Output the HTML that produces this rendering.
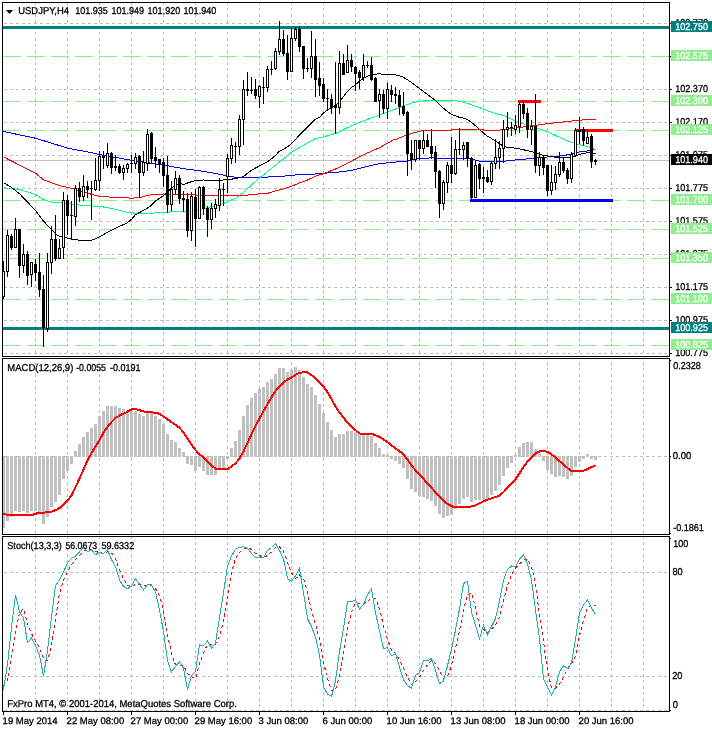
<!DOCTYPE html>
<html><head><meta charset="utf-8"><title>USDJPY,H4</title>
<style>html,body{margin:0;padding:0;background:#fff}svg text{white-space:pre}</style></head>
<body>
<svg width="712" height="729" viewBox="0 0 712 729" shape-rendering="crispEdges" font-family="'Liberation Sans', Arial, sans-serif" font-size="10px" style="display:block;text-rendering:geometricPrecision">
<rect x="0" y="0" width="712" height="729" fill="#fff"/>
<g>
<line x1="35.5" y1="2" x2="35.5" y2="356" stroke="#bdbdbd" stroke-width="1" stroke-dasharray="3 3" stroke-dashoffset="0"/>
<line x1="67.5" y1="2" x2="67.5" y2="356" stroke="#bdbdbd" stroke-width="1" stroke-dasharray="3 3" stroke-dashoffset="0"/>
<line x1="99.5" y1="2" x2="99.5" y2="356" stroke="#bdbdbd" stroke-width="1" stroke-dasharray="3 3" stroke-dashoffset="0"/>
<line x1="131.5" y1="2" x2="131.5" y2="356" stroke="#bdbdbd" stroke-width="1" stroke-dasharray="3 3" stroke-dashoffset="0"/>
<line x1="163.5" y1="2" x2="163.5" y2="356" stroke="#bdbdbd" stroke-width="1" stroke-dasharray="3 3" stroke-dashoffset="0"/>
<line x1="195.5" y1="2" x2="195.5" y2="356" stroke="#bdbdbd" stroke-width="1" stroke-dasharray="3 3" stroke-dashoffset="0"/>
<line x1="227.5" y1="2" x2="227.5" y2="356" stroke="#bdbdbd" stroke-width="1" stroke-dasharray="3 3" stroke-dashoffset="0"/>
<line x1="259.5" y1="2" x2="259.5" y2="356" stroke="#bdbdbd" stroke-width="1" stroke-dasharray="3 3" stroke-dashoffset="0"/>
<line x1="291.5" y1="2" x2="291.5" y2="356" stroke="#bdbdbd" stroke-width="1" stroke-dasharray="3 3" stroke-dashoffset="0"/>
<line x1="323.5" y1="2" x2="323.5" y2="356" stroke="#bdbdbd" stroke-width="1" stroke-dasharray="3 3" stroke-dashoffset="0"/>
<line x1="355.5" y1="2" x2="355.5" y2="356" stroke="#bdbdbd" stroke-width="1" stroke-dasharray="3 3" stroke-dashoffset="0"/>
<line x1="387.5" y1="2" x2="387.5" y2="356" stroke="#bdbdbd" stroke-width="1" stroke-dasharray="3 3" stroke-dashoffset="0"/>
<line x1="419.5" y1="2" x2="419.5" y2="356" stroke="#bdbdbd" stroke-width="1" stroke-dasharray="3 3" stroke-dashoffset="0"/>
<line x1="451.5" y1="2" x2="451.5" y2="356" stroke="#bdbdbd" stroke-width="1" stroke-dasharray="3 3" stroke-dashoffset="0"/>
<line x1="483.5" y1="2" x2="483.5" y2="356" stroke="#bdbdbd" stroke-width="1" stroke-dasharray="3 3" stroke-dashoffset="0"/>
<line x1="515.5" y1="2" x2="515.5" y2="356" stroke="#bdbdbd" stroke-width="1" stroke-dasharray="3 3" stroke-dashoffset="0"/>
<line x1="547.5" y1="2" x2="547.5" y2="356" stroke="#bdbdbd" stroke-width="1" stroke-dasharray="3 3" stroke-dashoffset="0"/>
<line x1="579.5" y1="2" x2="579.5" y2="356" stroke="#bdbdbd" stroke-width="1" stroke-dasharray="3 3" stroke-dashoffset="0"/>
<line x1="611.5" y1="2" x2="611.5" y2="356" stroke="#bdbdbd" stroke-width="1" stroke-dasharray="3 3" stroke-dashoffset="0"/>
<line x1="643.5" y1="2" x2="643.5" y2="356" stroke="#bdbdbd" stroke-width="1" stroke-dasharray="3 3" stroke-dashoffset="0"/>
<line x1="35.5" y1="358" x2="35.5" y2="534" stroke="#bdbdbd" stroke-width="1" stroke-dasharray="3 3" stroke-dashoffset="2"/>
<line x1="67.5" y1="358" x2="67.5" y2="534" stroke="#bdbdbd" stroke-width="1" stroke-dasharray="3 3" stroke-dashoffset="2"/>
<line x1="99.5" y1="358" x2="99.5" y2="534" stroke="#bdbdbd" stroke-width="1" stroke-dasharray="3 3" stroke-dashoffset="2"/>
<line x1="131.5" y1="358" x2="131.5" y2="534" stroke="#bdbdbd" stroke-width="1" stroke-dasharray="3 3" stroke-dashoffset="2"/>
<line x1="163.5" y1="358" x2="163.5" y2="534" stroke="#bdbdbd" stroke-width="1" stroke-dasharray="3 3" stroke-dashoffset="2"/>
<line x1="195.5" y1="358" x2="195.5" y2="534" stroke="#bdbdbd" stroke-width="1" stroke-dasharray="3 3" stroke-dashoffset="2"/>
<line x1="227.5" y1="358" x2="227.5" y2="534" stroke="#bdbdbd" stroke-width="1" stroke-dasharray="3 3" stroke-dashoffset="2"/>
<line x1="259.5" y1="358" x2="259.5" y2="534" stroke="#bdbdbd" stroke-width="1" stroke-dasharray="3 3" stroke-dashoffset="2"/>
<line x1="291.5" y1="358" x2="291.5" y2="534" stroke="#bdbdbd" stroke-width="1" stroke-dasharray="3 3" stroke-dashoffset="2"/>
<line x1="323.5" y1="358" x2="323.5" y2="534" stroke="#bdbdbd" stroke-width="1" stroke-dasharray="3 3" stroke-dashoffset="2"/>
<line x1="355.5" y1="358" x2="355.5" y2="534" stroke="#bdbdbd" stroke-width="1" stroke-dasharray="3 3" stroke-dashoffset="2"/>
<line x1="387.5" y1="358" x2="387.5" y2="534" stroke="#bdbdbd" stroke-width="1" stroke-dasharray="3 3" stroke-dashoffset="2"/>
<line x1="419.5" y1="358" x2="419.5" y2="534" stroke="#bdbdbd" stroke-width="1" stroke-dasharray="3 3" stroke-dashoffset="2"/>
<line x1="451.5" y1="358" x2="451.5" y2="534" stroke="#bdbdbd" stroke-width="1" stroke-dasharray="3 3" stroke-dashoffset="2"/>
<line x1="483.5" y1="358" x2="483.5" y2="534" stroke="#bdbdbd" stroke-width="1" stroke-dasharray="3 3" stroke-dashoffset="2"/>
<line x1="515.5" y1="358" x2="515.5" y2="534" stroke="#bdbdbd" stroke-width="1" stroke-dasharray="3 3" stroke-dashoffset="2"/>
<line x1="547.5" y1="358" x2="547.5" y2="534" stroke="#bdbdbd" stroke-width="1" stroke-dasharray="3 3" stroke-dashoffset="2"/>
<line x1="579.5" y1="358" x2="579.5" y2="534" stroke="#bdbdbd" stroke-width="1" stroke-dasharray="3 3" stroke-dashoffset="2"/>
<line x1="611.5" y1="358" x2="611.5" y2="534" stroke="#bdbdbd" stroke-width="1" stroke-dasharray="3 3" stroke-dashoffset="2"/>
<line x1="643.5" y1="358" x2="643.5" y2="534" stroke="#bdbdbd" stroke-width="1" stroke-dasharray="3 3" stroke-dashoffset="2"/>
<line x1="35.5" y1="536" x2="35.5" y2="711" stroke="#bdbdbd" stroke-width="1" stroke-dasharray="3 3" stroke-dashoffset="0"/>
<line x1="67.5" y1="536" x2="67.5" y2="711" stroke="#bdbdbd" stroke-width="1" stroke-dasharray="3 3" stroke-dashoffset="0"/>
<line x1="99.5" y1="536" x2="99.5" y2="711" stroke="#bdbdbd" stroke-width="1" stroke-dasharray="3 3" stroke-dashoffset="0"/>
<line x1="131.5" y1="536" x2="131.5" y2="711" stroke="#bdbdbd" stroke-width="1" stroke-dasharray="3 3" stroke-dashoffset="0"/>
<line x1="163.5" y1="536" x2="163.5" y2="711" stroke="#bdbdbd" stroke-width="1" stroke-dasharray="3 3" stroke-dashoffset="0"/>
<line x1="195.5" y1="536" x2="195.5" y2="711" stroke="#bdbdbd" stroke-width="1" stroke-dasharray="3 3" stroke-dashoffset="0"/>
<line x1="227.5" y1="536" x2="227.5" y2="711" stroke="#bdbdbd" stroke-width="1" stroke-dasharray="3 3" stroke-dashoffset="0"/>
<line x1="259.5" y1="536" x2="259.5" y2="711" stroke="#bdbdbd" stroke-width="1" stroke-dasharray="3 3" stroke-dashoffset="0"/>
<line x1="291.5" y1="536" x2="291.5" y2="711" stroke="#bdbdbd" stroke-width="1" stroke-dasharray="3 3" stroke-dashoffset="0"/>
<line x1="323.5" y1="536" x2="323.5" y2="711" stroke="#bdbdbd" stroke-width="1" stroke-dasharray="3 3" stroke-dashoffset="0"/>
<line x1="355.5" y1="536" x2="355.5" y2="711" stroke="#bdbdbd" stroke-width="1" stroke-dasharray="3 3" stroke-dashoffset="0"/>
<line x1="387.5" y1="536" x2="387.5" y2="711" stroke="#bdbdbd" stroke-width="1" stroke-dasharray="3 3" stroke-dashoffset="0"/>
<line x1="419.5" y1="536" x2="419.5" y2="711" stroke="#bdbdbd" stroke-width="1" stroke-dasharray="3 3" stroke-dashoffset="0"/>
<line x1="451.5" y1="536" x2="451.5" y2="711" stroke="#bdbdbd" stroke-width="1" stroke-dasharray="3 3" stroke-dashoffset="0"/>
<line x1="483.5" y1="536" x2="483.5" y2="711" stroke="#bdbdbd" stroke-width="1" stroke-dasharray="3 3" stroke-dashoffset="0"/>
<line x1="515.5" y1="536" x2="515.5" y2="711" stroke="#bdbdbd" stroke-width="1" stroke-dasharray="3 3" stroke-dashoffset="0"/>
<line x1="547.5" y1="536" x2="547.5" y2="711" stroke="#bdbdbd" stroke-width="1" stroke-dasharray="3 3" stroke-dashoffset="0"/>
<line x1="579.5" y1="536" x2="579.5" y2="711" stroke="#bdbdbd" stroke-width="1" stroke-dasharray="3 3" stroke-dashoffset="0"/>
<line x1="611.5" y1="536" x2="611.5" y2="711" stroke="#bdbdbd" stroke-width="1" stroke-dasharray="3 3" stroke-dashoffset="0"/>
<line x1="643.5" y1="536" x2="643.5" y2="711" stroke="#bdbdbd" stroke-width="1" stroke-dasharray="3 3" stroke-dashoffset="0"/>
<line x1="3" y1="23.5" x2="669" y2="23.5" stroke="#bdbdbd" stroke-width="1" stroke-dasharray="3 3" stroke-dashoffset="5"/>
<line x1="3" y1="56.5" x2="669" y2="56.5" stroke="#bdbdbd" stroke-width="1" stroke-dasharray="3 3" stroke-dashoffset="5"/>
<line x1="3" y1="89.5" x2="669" y2="89.5" stroke="#bdbdbd" stroke-width="1" stroke-dasharray="3 3" stroke-dashoffset="5"/>
<line x1="3" y1="122.5" x2="669" y2="122.5" stroke="#bdbdbd" stroke-width="1" stroke-dasharray="3 3" stroke-dashoffset="5"/>
<line x1="3" y1="155.5" x2="669" y2="155.5" stroke="#bdbdbd" stroke-width="1" stroke-dasharray="3 3" stroke-dashoffset="5"/>
<line x1="3" y1="188.5" x2="669" y2="188.5" stroke="#bdbdbd" stroke-width="1" stroke-dasharray="3 3" stroke-dashoffset="5"/>
<line x1="3" y1="221.5" x2="669" y2="221.5" stroke="#bdbdbd" stroke-width="1" stroke-dasharray="3 3" stroke-dashoffset="5"/>
<line x1="3" y1="254.5" x2="669" y2="254.5" stroke="#bdbdbd" stroke-width="1" stroke-dasharray="3 3" stroke-dashoffset="5"/>
<line x1="3" y1="287.5" x2="669" y2="287.5" stroke="#bdbdbd" stroke-width="1" stroke-dasharray="3 3" stroke-dashoffset="5"/>
<line x1="3" y1="320.5" x2="669" y2="320.5" stroke="#bdbdbd" stroke-width="1" stroke-dasharray="3 3" stroke-dashoffset="5"/>
<line x1="3" y1="353.5" x2="669" y2="353.5" stroke="#bdbdbd" stroke-width="1" stroke-dasharray="3 3" stroke-dashoffset="5"/>
<line x1="3" y1="456.5" x2="669" y2="456.5" stroke="#bdbdbd" stroke-width="1" stroke-dasharray="3 3" stroke-dashoffset="5"/>
<line x1="3" y1="572.5" x2="669" y2="572.5" stroke="#bdbdbd" stroke-width="1" stroke-dasharray="3 3" stroke-dashoffset="5"/>
<line x1="3" y1="676.5" x2="669" y2="676.5" stroke="#bdbdbd" stroke-width="1" stroke-dasharray="3 3" stroke-dashoffset="5"/>
<line x1="3" y1="710.5" x2="669" y2="710.5" stroke="#bdbdbd" stroke-width="1" stroke-dasharray="3 3" stroke-dashoffset="5"/>
</g>
<line x1="3" y1="160.5" x2="669" y2="160.5" stroke="#c0c0c0" stroke-width="1"/>
<line x1="3" y1="56.5" x2="669" y2="56.5" stroke="#fff" stroke-width="1"/>
<line x1="3" y1="56.5" x2="669" y2="56.5" stroke="#90ee90" stroke-width="1" stroke-dasharray="18 6" stroke-dashoffset="0"/>
<line x1="3" y1="101.5" x2="669" y2="101.5" stroke="#fff" stroke-width="1"/>
<line x1="3" y1="101.5" x2="669" y2="101.5" stroke="#90ee90" stroke-width="1" stroke-dasharray="18 6" stroke-dashoffset="0"/>
<line x1="3" y1="130.5" x2="669" y2="130.5" stroke="#fff" stroke-width="1"/>
<line x1="3" y1="130.5" x2="669" y2="130.5" stroke="#90ee90" stroke-width="1" stroke-dasharray="18 6" stroke-dashoffset="0"/>
<line x1="3" y1="200.5" x2="669" y2="200.5" stroke="#fff" stroke-width="1"/>
<line x1="3" y1="200.5" x2="669" y2="200.5" stroke="#90ee90" stroke-width="1" stroke-dasharray="18 6" stroke-dashoffset="0"/>
<line x1="3" y1="229.5" x2="669" y2="229.5" stroke="#fff" stroke-width="1"/>
<line x1="3" y1="229.5" x2="669" y2="229.5" stroke="#90ee90" stroke-width="1" stroke-dasharray="18 6" stroke-dashoffset="0"/>
<line x1="3" y1="258.5" x2="669" y2="258.5" stroke="#fff" stroke-width="1"/>
<line x1="3" y1="258.5" x2="669" y2="258.5" stroke="#90ee90" stroke-width="1" stroke-dasharray="18 6" stroke-dashoffset="0"/>
<line x1="3" y1="299.5" x2="669" y2="299.5" stroke="#fff" stroke-width="1"/>
<line x1="3" y1="299.5" x2="669" y2="299.5" stroke="#90ee90" stroke-width="1" stroke-dasharray="18 6" stroke-dashoffset="0"/>
<line x1="3" y1="345.5" x2="669" y2="345.5" stroke="#fff" stroke-width="1"/>
<line x1="3" y1="345.5" x2="669" y2="345.5" stroke="#90ee90" stroke-width="1" stroke-dasharray="18 6" stroke-dashoffset="0"/>
<polyline points="3.5,131.5 35.5,138.2 67.5,148.1 92.5,152.9 99.5,154.5 131.5,160.3 163.5,165.1 184.5,168.8 195.5,170.2 211.5,172.7 227.5,175.8 235.5,177.2 243.5,177.9 259.5,177.6 275.5,176.5 283.5,176.1 291.5,175.4 299.5,174.4 307.5,174.4 315.5,174.0 323.5,173.4 331.5,172.6 339.5,172.0 347.5,170.9 355.5,169.5 363.5,167.4 371.5,165.3 379.5,163.6 396.5,162.0 403.5,161.2 407.5,161.2 411.5,159.8 415.5,159.2 419.5,158.8 427.5,158.4 431.5,157.4 435.5,158.1 439.5,158.8 451.5,158.8 463.5,158.8 467.5,158.8 471.5,159.2 475.5,160.2 479.5,161.2 483.5,161.6 491.5,162.0 495.5,161.9 503.5,161.8 507.5,160.7 515.5,160.0 523.5,159.3 531.5,158.4 539.5,157.7 547.5,157.0 555.5,156.3 563.5,155.6 567.5,154.8 571.5,154.2 575.5,152.6 579.5,152.0 583.5,151.4 587.5,150.9 591.5,150.2 595.5,148.9" fill="none" stroke="#0000ff" stroke-width="1" />
<polyline points="3.5,156.9 35.5,173.3 43.5,179.7 59.5,185.7 67.5,187.4 75.5,189.5 92.5,194.6 99.5,196.4 115.5,197.4 131.5,198.1 139.5,197.8 147.5,195.3 155.5,194.3 163.5,194.0 179.5,194.3 191.5,194.6 195.5,195.0 211.5,195.4 227.5,195.9 243.5,195.4 251.5,194.7 259.5,193.8 267.5,193.3 275.5,190.9 283.5,188.9 291.5,186.3 299.5,182.8 307.5,180.0 315.5,176.2 323.5,173.7 331.5,170.6 339.5,167.4 347.5,163.2 355.5,159.0 363.5,154.7 371.5,151.2 379.5,147.7 393.5,139.9 396.5,139.1 403.5,136.3 411.5,133.5 419.5,131.4 423.5,130.3 431.5,130.0 443.5,130.0 451.5,130.0 455.5,129.3 463.5,129.3 467.5,129.6 471.5,130.0 475.5,129.7 483.5,130.0 495.5,130.0 499.5,130.1 503.5,129.5 507.5,128.7 515.5,128.1 519.5,127.7 523.5,127.0 527.5,126.3 531.5,125.6 539.5,124.9 547.5,123.5 555.5,122.8 563.5,122.0 571.5,121.1 579.5,120.1 587.5,119.8 595.5,119.8" fill="none" stroke="#ff0000" stroke-width="1" />
<polyline points="3.5,187.8 19.5,189.5 35.5,194.4 43.5,199.6 51.5,202.1 67.5,203.5 83.5,205.6 99.5,206.3 107.5,207.7 115.5,209.3 123.5,211.5 131.5,212.9 139.5,213.7 147.5,213.7 155.5,212.9 163.5,212.3 171.5,211.9 179.5,211.5 184.5,212.0 195.5,210.2 203.5,208.8 211.5,206.7 219.5,205.0 227.5,201.8 235.5,198.3 243.5,192.6 251.5,184.9 259.5,177.9 267.5,171.6 275.5,165.2 283.5,158.9 291.5,152.2 299.5,147.4 307.5,142.9 315.5,138.4 323.5,136.9 331.5,134.5 335.5,133.5 339.5,131.7 347.5,127.5 355.5,124.1 363.5,120.8 371.5,117.9 379.5,115.1 387.5,112.1 395.5,109.0 403.5,105.9 411.5,103.1 419.5,101.2 427.5,100.6 435.5,100.3 443.5,100.3 451.5,100.6 459.5,101.2 467.5,103.3 475.5,106.1 483.5,109.2 491.5,112.2 495.5,113.5 503.5,115.5 507.5,117.2 515.5,121.4 523.5,123.9 531.5,126.3 539.5,128.7 547.5,131.9 555.5,135.5 563.5,139.3 567.5,140.8 571.5,142.3 575.5,143.6 579.5,144.5 583.5,145.6 587.5,146.5 591.5,148.1 595.5,149.6" fill="none" stroke="#00ff80" stroke-width="1" />
<polyline points="3.5,182.7 11.5,187.4 19.5,193.7 27.5,202.1 35.5,210.5 43.5,221.1 51.5,229.5 55.5,233.8 59.5,236.4 63.5,237.1 67.5,238.1 71.5,239.2 79.5,240.2 87.5,240.9 92.5,240.0 99.5,236.8 107.5,232.3 115.5,228.1 123.5,224.6 127.5,222.7 131.5,219.3 135.5,214.7 139.5,212.5 147.5,208.1 151.5,205.2 155.5,201.1 163.5,195.7 167.5,192.2 171.5,188.0 175.5,185.2 179.5,183.8 184.5,184.2 187.5,183.0 191.5,181.7 195.5,180.7 203.5,180.0 211.5,180.3 219.5,180.3 227.5,179.7 235.5,178.6 243.5,176.5 251.5,170.2 259.5,165.9 267.5,161.7 271.5,158.8 275.5,155.4 279.5,151.1 283.5,149.5 291.5,143.8 299.5,135.0 307.5,127.0 315.5,119.2 319.5,117.4 323.5,113.0 327.5,110.0 331.5,107.9 335.5,105.3 339.5,101.7 343.5,96.7 347.5,91.3 351.5,87.6 355.5,84.7 359.5,81.2 363.5,78.4 367.5,76.3 371.5,74.2 379.5,73.9 387.5,74.5 395.5,74.9 399.5,75.9 403.5,77.3 407.5,79.8 411.5,82.4 415.5,85.4 419.5,88.5 423.5,91.5 427.5,94.5 431.5,97.5 435.5,100.5 439.5,104.4 443.5,108.2 447.5,111.7 451.5,114.5 455.5,115.9 459.5,117.4 463.5,118.1 467.5,119.5 471.5,122.3 475.5,125.8 479.5,129.3 483.5,133.1 487.5,136.2 491.5,138.5 495.5,140.8 499.5,143.9 503.5,146.0 507.5,147.4 515.5,148.1 519.5,148.8 523.5,149.8 527.5,150.6 531.5,151.6 535.5,152.6 539.5,154.4 543.5,155.4 547.5,155.9 551.5,156.8 555.5,157.1 559.5,157.7 563.5,157.9 567.5,157.9 571.5,157.2 575.5,155.9 579.5,154.4 583.5,153.4 587.5,152.7 591.5,152.3 592.5,153.8 595.5,153.8" fill="none" stroke="#000" stroke-width="1" />
<rect x="3" y="26" width="666" height="3" fill="#008080"/>
<rect x="3" y="327" width="666" height="3" fill="#008080"/>
<rect x="470" y="199" width="143" height="3" fill="#0000ff"/>
<rect x="518" y="100" width="23" height="3" fill="#ff0000"/>
<rect x="575" y="129" width="38" height="3" fill="#ff0000"/>
<g fill="#000">
<rect x="3" y="261" width="1" height="38"/>
<rect x="2" y="271" width="3" height="26"/>
<rect x="3" y="272" width="1" height="24" fill="#fff"/>
<rect x="7" y="230" width="1" height="47"/>
<rect x="6" y="235" width="3" height="37"/>
<rect x="7" y="236" width="1" height="35" fill="#fff"/>
<rect x="11" y="234" width="1" height="16"/>
<rect x="10" y="236" width="3" height="12"/>
<rect x="15" y="218" width="1" height="30"/>
<rect x="14" y="229" width="3" height="19"/>
<rect x="15" y="230" width="1" height="17" fill="#fff"/>
<rect x="19" y="229" width="1" height="49"/>
<rect x="18" y="229" width="3" height="37"/>
<rect x="23" y="244" width="1" height="29"/>
<rect x="22" y="254" width="3" height="12"/>
<rect x="23" y="255" width="1" height="10" fill="#fff"/>
<rect x="27" y="251" width="1" height="34"/>
<rect x="26" y="254" width="3" height="22"/>
<rect x="31" y="262" width="1" height="25"/>
<rect x="30" y="262" width="3" height="13"/>
<rect x="31" y="263" width="1" height="11" fill="#fff"/>
<rect x="35" y="259" width="1" height="22"/>
<rect x="34" y="264" width="3" height="9"/>
<rect x="39" y="253" width="1" height="44"/>
<rect x="38" y="272" width="3" height="18"/>
<rect x="43" y="275" width="1" height="72"/>
<rect x="42" y="289" width="3" height="39"/>
<rect x="47" y="253" width="1" height="79"/>
<rect x="46" y="262" width="3" height="67"/>
<rect x="47" y="263" width="1" height="65" fill="#fff"/>
<rect x="51" y="226" width="1" height="48"/>
<rect x="50" y="239" width="3" height="24"/>
<rect x="51" y="240" width="1" height="22" fill="#fff"/>
<rect x="55" y="215" width="1" height="46"/>
<rect x="54" y="239" width="3" height="20"/>
<rect x="59" y="239" width="1" height="20"/>
<rect x="58" y="248" width="3" height="11"/>
<rect x="59" y="249" width="1" height="9" fill="#fff"/>
<rect x="63" y="192" width="1" height="67"/>
<rect x="62" y="200" width="3" height="48"/>
<rect x="63" y="201" width="1" height="46" fill="#fff"/>
<rect x="67" y="195" width="1" height="40"/>
<rect x="66" y="200" width="3" height="16"/>
<rect x="71" y="201" width="1" height="38"/>
<rect x="70" y="215" width="3" height="1"/>
<rect x="75" y="185" width="1" height="41"/>
<rect x="74" y="188" width="3" height="29"/>
<rect x="75" y="189" width="1" height="27" fill="#fff"/>
<rect x="79" y="182" width="1" height="20"/>
<rect x="78" y="188" width="3" height="9"/>
<rect x="83" y="175" width="1" height="26"/>
<rect x="82" y="186" width="3" height="11"/>
<rect x="83" y="187" width="1" height="9" fill="#fff"/>
<rect x="87" y="181" width="1" height="17"/>
<rect x="86" y="186" width="3" height="4"/>
<rect x="91" y="181" width="1" height="39"/>
<rect x="90" y="188" width="3" height="1"/>
<rect x="95" y="158" width="1" height="33"/>
<rect x="94" y="180" width="3" height="10"/>
<rect x="95" y="181" width="1" height="8" fill="#fff"/>
<rect x="99" y="151" width="1" height="40"/>
<rect x="98" y="156" width="3" height="25"/>
<rect x="99" y="157" width="1" height="23" fill="#fff"/>
<rect x="103" y="151" width="1" height="18"/>
<rect x="102" y="156" width="3" height="2"/>
<rect x="107" y="143" width="1" height="25"/>
<rect x="106" y="153" width="3" height="13"/>
<rect x="107" y="154" width="1" height="11" fill="#fff"/>
<rect x="111" y="152" width="1" height="22"/>
<rect x="110" y="153" width="3" height="15"/>
<rect x="115" y="155" width="1" height="16"/>
<rect x="114" y="166" width="3" height="2"/>
<rect x="119" y="164" width="1" height="10"/>
<rect x="118" y="166" width="3" height="7"/>
<rect x="123" y="165" width="1" height="15"/>
<rect x="122" y="168" width="3" height="5"/>
<rect x="123" y="169" width="1" height="3" fill="#fff"/>
<rect x="127" y="163" width="1" height="10"/>
<rect x="126" y="164" width="3" height="5"/>
<rect x="127" y="165" width="1" height="3" fill="#fff"/>
<rect x="131" y="155" width="1" height="18"/>
<rect x="130" y="163" width="3" height="1"/>
<rect x="135" y="153" width="1" height="16"/>
<rect x="134" y="157" width="3" height="7"/>
<rect x="135" y="158" width="1" height="5" fill="#fff"/>
<rect x="139" y="155" width="1" height="43"/>
<rect x="138" y="156" width="3" height="17"/>
<rect x="143" y="151" width="1" height="25"/>
<rect x="142" y="162" width="3" height="11"/>
<rect x="143" y="163" width="1" height="9" fill="#fff"/>
<rect x="147" y="129" width="1" height="42"/>
<rect x="146" y="134" width="3" height="30"/>
<rect x="147" y="135" width="1" height="28" fill="#fff"/>
<rect x="151" y="132" width="1" height="31"/>
<rect x="150" y="133" width="3" height="26"/>
<rect x="155" y="147" width="1" height="21"/>
<rect x="154" y="157" width="3" height="4"/>
<rect x="159" y="159" width="1" height="14"/>
<rect x="158" y="159" width="3" height="5"/>
<rect x="163" y="158" width="1" height="29"/>
<rect x="162" y="162" width="3" height="14"/>
<rect x="167" y="156" width="1" height="57"/>
<rect x="166" y="175" width="3" height="30"/>
<rect x="171" y="181" width="1" height="30"/>
<rect x="170" y="189" width="3" height="16"/>
<rect x="171" y="190" width="1" height="14" fill="#fff"/>
<rect x="175" y="171" width="1" height="23"/>
<rect x="174" y="178" width="3" height="12"/>
<rect x="175" y="179" width="1" height="10" fill="#fff"/>
<rect x="179" y="175" width="1" height="29"/>
<rect x="178" y="178" width="3" height="21"/>
<rect x="183" y="191" width="1" height="21"/>
<rect x="182" y="198" width="3" height="2"/>
<rect x="187" y="193" width="1" height="44"/>
<rect x="186" y="199" width="3" height="32"/>
<rect x="191" y="192" width="1" height="49"/>
<rect x="190" y="196" width="3" height="35"/>
<rect x="191" y="197" width="1" height="33" fill="#fff"/>
<rect x="195" y="189" width="1" height="58"/>
<rect x="194" y="197" width="3" height="22"/>
<rect x="199" y="186" width="1" height="33"/>
<rect x="198" y="187" width="3" height="32"/>
<rect x="199" y="188" width="1" height="30" fill="#fff"/>
<rect x="203" y="186" width="1" height="29"/>
<rect x="202" y="187" width="3" height="22"/>
<rect x="207" y="206" width="1" height="31"/>
<rect x="206" y="208" width="3" height="12"/>
<rect x="211" y="203" width="1" height="26"/>
<rect x="210" y="208" width="3" height="12"/>
<rect x="211" y="209" width="1" height="10" fill="#fff"/>
<rect x="215" y="199" width="1" height="19"/>
<rect x="214" y="204" width="3" height="5"/>
<rect x="215" y="205" width="1" height="3" fill="#fff"/>
<rect x="219" y="178" width="1" height="33"/>
<rect x="218" y="189" width="3" height="17"/>
<rect x="219" y="190" width="1" height="15" fill="#fff"/>
<rect x="223" y="183" width="1" height="23"/>
<rect x="222" y="189" width="3" height="1"/>
<rect x="227" y="154" width="1" height="39"/>
<rect x="226" y="158" width="3" height="19"/>
<rect x="227" y="159" width="1" height="17" fill="#fff"/>
<rect x="231" y="138" width="1" height="26"/>
<rect x="230" y="145" width="3" height="14"/>
<rect x="231" y="146" width="1" height="12" fill="#fff"/>
<rect x="235" y="142" width="1" height="21"/>
<rect x="234" y="146" width="3" height="1"/>
<rect x="239" y="115" width="1" height="40"/>
<rect x="238" y="119" width="3" height="28"/>
<rect x="239" y="120" width="1" height="26" fill="#fff"/>
<rect x="243" y="80" width="1" height="65"/>
<rect x="242" y="89" width="3" height="31"/>
<rect x="243" y="90" width="1" height="29" fill="#fff"/>
<rect x="247" y="72" width="1" height="24"/>
<rect x="246" y="89" width="3" height="2"/>
<rect x="251" y="77" width="1" height="17"/>
<rect x="250" y="90" width="3" height="1"/>
<rect x="255" y="79" width="1" height="20"/>
<rect x="254" y="89" width="3" height="7"/>
<rect x="259" y="85" width="1" height="23"/>
<rect x="258" y="86" width="3" height="11"/>
<rect x="259" y="87" width="1" height="9" fill="#fff"/>
<rect x="263" y="77" width="1" height="27"/>
<rect x="262" y="87" width="3" height="1"/>
<rect x="267" y="66" width="1" height="26"/>
<rect x="266" y="69" width="3" height="19"/>
<rect x="267" y="70" width="1" height="17" fill="#fff"/>
<rect x="271" y="61" width="1" height="14"/>
<rect x="270" y="69" width="3" height="1"/>
<rect x="275" y="48" width="1" height="22"/>
<rect x="274" y="51" width="3" height="18"/>
<rect x="275" y="52" width="1" height="16" fill="#fff"/>
<rect x="279" y="21" width="1" height="34"/>
<rect x="278" y="39" width="3" height="13"/>
<rect x="279" y="40" width="1" height="11" fill="#fff"/>
<rect x="283" y="30" width="1" height="26"/>
<rect x="282" y="39" width="3" height="15"/>
<rect x="287" y="35" width="1" height="45"/>
<rect x="286" y="53" width="3" height="19"/>
<rect x="291" y="28" width="1" height="44"/>
<rect x="290" y="38" width="3" height="34"/>
<rect x="291" y="39" width="1" height="32" fill="#fff"/>
<rect x="295" y="27" width="1" height="14"/>
<rect x="294" y="29" width="3" height="10"/>
<rect x="295" y="30" width="1" height="8" fill="#fff"/>
<rect x="299" y="26" width="1" height="26"/>
<rect x="298" y="29" width="3" height="18"/>
<rect x="303" y="46" width="1" height="33"/>
<rect x="302" y="46" width="3" height="23"/>
<rect x="307" y="58" width="1" height="14"/>
<rect x="306" y="68" width="3" height="1"/>
<rect x="311" y="31" width="1" height="47"/>
<rect x="310" y="56" width="3" height="13"/>
<rect x="311" y="57" width="1" height="11" fill="#fff"/>
<rect x="315" y="39" width="1" height="58"/>
<rect x="314" y="56" width="3" height="24"/>
<rect x="319" y="62" width="1" height="34"/>
<rect x="318" y="78" width="3" height="8"/>
<rect x="323" y="78" width="1" height="24"/>
<rect x="322" y="84" width="3" height="15"/>
<rect x="327" y="89" width="1" height="22"/>
<rect x="326" y="98" width="3" height="1"/>
<rect x="331" y="94" width="1" height="20"/>
<rect x="330" y="99" width="3" height="9"/>
<rect x="335" y="62" width="1" height="72"/>
<rect x="334" y="105" width="3" height="3"/>
<rect x="339" y="51" width="1" height="63"/>
<rect x="338" y="63" width="3" height="45"/>
<rect x="339" y="64" width="1" height="43" fill="#fff"/>
<rect x="343" y="54" width="1" height="21"/>
<rect x="342" y="63" width="3" height="12"/>
<rect x="347" y="45" width="1" height="28"/>
<rect x="346" y="60" width="3" height="13"/>
<rect x="347" y="61" width="1" height="11" fill="#fff"/>
<rect x="351" y="54" width="1" height="18"/>
<rect x="350" y="60" width="3" height="7"/>
<rect x="355" y="66" width="1" height="25"/>
<rect x="354" y="67" width="3" height="7"/>
<rect x="359" y="70" width="1" height="19"/>
<rect x="358" y="72" width="3" height="6"/>
<rect x="363" y="54" width="1" height="27"/>
<rect x="362" y="65" width="3" height="13"/>
<rect x="363" y="66" width="1" height="11" fill="#fff"/>
<rect x="367" y="61" width="1" height="7"/>
<rect x="366" y="65" width="3" height="1"/>
<rect x="371" y="57" width="1" height="24"/>
<rect x="370" y="65" width="3" height="15"/>
<rect x="375" y="77" width="1" height="25"/>
<rect x="374" y="78" width="3" height="24"/>
<rect x="379" y="89" width="1" height="29"/>
<rect x="378" y="94" width="3" height="7"/>
<rect x="379" y="95" width="1" height="5" fill="#fff"/>
<rect x="383" y="90" width="1" height="24"/>
<rect x="382" y="94" width="3" height="15"/>
<rect x="387" y="83" width="1" height="36"/>
<rect x="386" y="89" width="3" height="20"/>
<rect x="387" y="90" width="1" height="18" fill="#fff"/>
<rect x="391" y="85" width="1" height="17"/>
<rect x="390" y="90" width="3" height="5"/>
<rect x="395" y="87" width="1" height="17"/>
<rect x="394" y="94" width="3" height="2"/>
<rect x="399" y="90" width="1" height="25"/>
<rect x="398" y="95" width="3" height="12"/>
<rect x="403" y="92" width="1" height="24"/>
<rect x="402" y="106" width="3" height="8"/>
<rect x="407" y="111" width="1" height="65"/>
<rect x="406" y="112" width="3" height="42"/>
<rect x="411" y="140" width="1" height="30"/>
<rect x="410" y="153" width="3" height="7"/>
<rect x="415" y="140" width="1" height="22"/>
<rect x="414" y="140" width="3" height="20"/>
<rect x="415" y="141" width="1" height="18" fill="#fff"/>
<rect x="419" y="140" width="1" height="20"/>
<rect x="418" y="140" width="3" height="9"/>
<rect x="423" y="130" width="1" height="24"/>
<rect x="422" y="140" width="3" height="9"/>
<rect x="423" y="141" width="1" height="7" fill="#fff"/>
<rect x="427" y="134" width="1" height="13"/>
<rect x="426" y="140" width="3" height="7"/>
<rect x="431" y="129" width="1" height="30"/>
<rect x="430" y="146" width="3" height="8"/>
<rect x="435" y="146" width="1" height="42"/>
<rect x="434" y="152" width="3" height="20"/>
<rect x="439" y="170" width="1" height="48"/>
<rect x="438" y="171" width="3" height="33"/>
<rect x="443" y="180" width="1" height="30"/>
<rect x="442" y="182" width="3" height="22"/>
<rect x="443" y="183" width="1" height="20" fill="#fff"/>
<rect x="447" y="162" width="1" height="31"/>
<rect x="446" y="165" width="3" height="18"/>
<rect x="447" y="166" width="1" height="16" fill="#fff"/>
<rect x="451" y="137" width="1" height="46"/>
<rect x="450" y="165" width="3" height="9"/>
<rect x="455" y="140" width="1" height="35"/>
<rect x="454" y="149" width="3" height="25"/>
<rect x="455" y="150" width="1" height="23" fill="#fff"/>
<rect x="459" y="128" width="1" height="27"/>
<rect x="458" y="149" width="3" height="1"/>
<rect x="463" y="142" width="1" height="18"/>
<rect x="462" y="145" width="3" height="5"/>
<rect x="463" y="146" width="1" height="3" fill="#fff"/>
<rect x="467" y="142" width="1" height="25"/>
<rect x="466" y="142" width="3" height="17"/>
<rect x="471" y="157" width="1" height="42"/>
<rect x="470" y="158" width="3" height="40"/>
<rect x="475" y="160" width="1" height="38"/>
<rect x="474" y="165" width="3" height="33"/>
<rect x="475" y="166" width="1" height="31" fill="#fff"/>
<rect x="479" y="163" width="1" height="26"/>
<rect x="478" y="164" width="3" height="15"/>
<rect x="483" y="167" width="1" height="26"/>
<rect x="482" y="177" width="3" height="2"/>
<rect x="487" y="170" width="1" height="13"/>
<rect x="486" y="177" width="3" height="5"/>
<rect x="491" y="162" width="1" height="23"/>
<rect x="490" y="163" width="3" height="19"/>
<rect x="491" y="164" width="1" height="17" fill="#fff"/>
<rect x="495" y="139" width="1" height="30"/>
<rect x="494" y="157" width="3" height="7"/>
<rect x="495" y="158" width="1" height="5" fill="#fff"/>
<rect x="499" y="141" width="1" height="28"/>
<rect x="498" y="148" width="3" height="10"/>
<rect x="499" y="149" width="1" height="8" fill="#fff"/>
<rect x="503" y="120" width="1" height="43"/>
<rect x="502" y="129" width="3" height="20"/>
<rect x="503" y="130" width="1" height="18" fill="#fff"/>
<rect x="507" y="112" width="1" height="25"/>
<rect x="506" y="127" width="3" height="3"/>
<rect x="507" y="128" width="1" height="1" fill="#fff"/>
<rect x="511" y="122" width="1" height="14"/>
<rect x="510" y="127" width="3" height="1"/>
<rect x="515" y="115" width="1" height="19"/>
<rect x="514" y="125" width="3" height="5"/>
<rect x="515" y="126" width="1" height="3" fill="#fff"/>
<rect x="519" y="102" width="1" height="31"/>
<rect x="518" y="104" width="3" height="23"/>
<rect x="519" y="105" width="1" height="21" fill="#fff"/>
<rect x="523" y="101" width="1" height="18"/>
<rect x="522" y="104" width="3" height="10"/>
<rect x="527" y="108" width="1" height="30"/>
<rect x="526" y="113" width="3" height="17"/>
<rect x="531" y="120" width="1" height="25"/>
<rect x="530" y="126" width="3" height="4"/>
<rect x="531" y="127" width="1" height="2" fill="#fff"/>
<rect x="535" y="94" width="1" height="79"/>
<rect x="534" y="126" width="3" height="40"/>
<rect x="539" y="152" width="1" height="24"/>
<rect x="538" y="157" width="3" height="9"/>
<rect x="539" y="158" width="1" height="7" fill="#fff"/>
<rect x="543" y="156" width="1" height="19"/>
<rect x="542" y="157" width="3" height="11"/>
<rect x="547" y="165" width="1" height="31"/>
<rect x="546" y="165" width="3" height="26"/>
<rect x="551" y="165" width="1" height="30"/>
<rect x="550" y="182" width="3" height="9"/>
<rect x="551" y="183" width="1" height="7" fill="#fff"/>
<rect x="555" y="166" width="1" height="24"/>
<rect x="554" y="174" width="3" height="9"/>
<rect x="555" y="175" width="1" height="7" fill="#fff"/>
<rect x="559" y="152" width="1" height="25"/>
<rect x="558" y="162" width="3" height="13"/>
<rect x="559" y="163" width="1" height="11" fill="#fff"/>
<rect x="563" y="157" width="1" height="16"/>
<rect x="562" y="162" width="3" height="9"/>
<rect x="567" y="168" width="1" height="16"/>
<rect x="566" y="170" width="3" height="9"/>
<rect x="571" y="152" width="1" height="31"/>
<rect x="570" y="154" width="3" height="25"/>
<rect x="571" y="155" width="1" height="23" fill="#fff"/>
<rect x="575" y="128" width="1" height="29"/>
<rect x="574" y="130" width="3" height="26"/>
<rect x="575" y="131" width="1" height="24" fill="#fff"/>
<rect x="579" y="117" width="1" height="27"/>
<rect x="578" y="130" width="3" height="2"/>
<rect x="583" y="127" width="1" height="19"/>
<rect x="582" y="129" width="3" height="12"/>
<rect x="587" y="130" width="1" height="14"/>
<rect x="586" y="137" width="3" height="7"/>
<rect x="587" y="138" width="1" height="5" fill="#fff"/>
<rect x="591" y="134" width="1" height="34"/>
<rect x="590" y="136" width="3" height="26"/>
<rect x="595" y="159" width="1" height="6"/>
<rect x="594" y="160" width="3" height="2"/>
</g>
<g fill="#c0c0c0">
<rect x="2" y="456" width="3" height="72"/>
<rect x="6" y="456" width="3" height="65"/>
<rect x="10" y="456" width="3" height="61"/>
<rect x="14" y="456" width="3" height="55"/>
<rect x="18" y="456" width="3" height="56"/>
<rect x="22" y="456" width="3" height="55"/>
<rect x="26" y="456" width="3" height="57"/>
<rect x="30" y="456" width="3" height="55"/>
<rect x="34" y="456" width="3" height="55"/>
<rect x="38" y="456" width="3" height="57"/>
<rect x="42" y="456" width="3" height="68"/>
<rect x="46" y="456" width="3" height="61"/>
<rect x="50" y="456" width="3" height="51"/>
<rect x="54" y="456" width="3" height="46"/>
<rect x="58" y="456" width="3" height="39"/>
<rect x="62" y="456" width="3" height="23"/>
<rect x="66" y="456" width="3" height="15"/>
<rect x="70" y="456" width="3" height="8"/>
<rect x="74" y="451" width="3" height="6"/>
<rect x="78" y="444" width="3" height="13"/>
<rect x="82" y="437" width="3" height="20"/>
<rect x="86" y="432" width="3" height="25"/>
<rect x="90" y="428" width="3" height="29"/>
<rect x="94" y="424" width="3" height="33"/>
<rect x="98" y="416" width="3" height="41"/>
<rect x="102" y="411" width="3" height="46"/>
<rect x="106" y="406" width="3" height="51"/>
<rect x="110" y="406" width="3" height="51"/>
<rect x="114" y="406" width="3" height="51"/>
<rect x="118" y="408" width="3" height="49"/>
<rect x="122" y="409" width="3" height="48"/>
<rect x="126" y="411" width="3" height="46"/>
<rect x="130" y="411" width="3" height="46"/>
<rect x="134" y="411" width="3" height="46"/>
<rect x="138" y="414" width="3" height="43"/>
<rect x="142" y="416" width="3" height="41"/>
<rect x="146" y="412" width="3" height="45"/>
<rect x="150" y="412" width="3" height="45"/>
<rect x="154" y="416" width="3" height="41"/>
<rect x="158" y="419" width="3" height="38"/>
<rect x="162" y="424" width="3" height="33"/>
<rect x="166" y="434" width="3" height="23"/>
<rect x="170" y="440" width="3" height="17"/>
<rect x="174" y="442" width="3" height="15"/>
<rect x="178" y="448" width="3" height="9"/>
<rect x="182" y="452" width="3" height="5"/>
<rect x="186" y="456" width="3" height="8"/>
<rect x="190" y="456" width="3" height="9"/>
<rect x="194" y="456" width="3" height="15"/>
<rect x="198" y="456" width="3" height="11"/>
<rect x="202" y="456" width="3" height="15"/>
<rect x="206" y="456" width="3" height="19"/>
<rect x="210" y="456" width="3" height="19"/>
<rect x="214" y="456" width="3" height="19"/>
<rect x="218" y="456" width="3" height="14"/>
<rect x="222" y="456" width="3" height="12"/>
<rect x="226" y="456" width="3" height="3"/>
<rect x="230" y="448" width="3" height="9"/>
<rect x="234" y="441" width="3" height="16"/>
<rect x="238" y="430" width="3" height="27"/>
<rect x="242" y="416" width="3" height="41"/>
<rect x="246" y="405" width="3" height="52"/>
<rect x="250" y="398" width="3" height="59"/>
<rect x="254" y="393" width="3" height="64"/>
<rect x="258" y="389" width="3" height="68"/>
<rect x="262" y="387" width="3" height="70"/>
<rect x="266" y="382" width="3" height="75"/>
<rect x="270" y="379" width="3" height="78"/>
<rect x="274" y="374" width="3" height="83"/>
<rect x="278" y="368" width="3" height="89"/>
<rect x="282" y="368" width="3" height="89"/>
<rect x="286" y="372" width="3" height="85"/>
<rect x="290" y="370" width="3" height="87"/>
<rect x="294" y="367" width="3" height="90"/>
<rect x="298" y="370" width="3" height="87"/>
<rect x="302" y="377" width="3" height="80"/>
<rect x="306" y="384" width="3" height="73"/>
<rect x="310" y="387" width="3" height="70"/>
<rect x="314" y="395" width="3" height="62"/>
<rect x="318" y="404" width="3" height="53"/>
<rect x="322" y="413" width="3" height="44"/>
<rect x="326" y="422" width="3" height="35"/>
<rect x="330" y="430" width="3" height="27"/>
<rect x="334" y="437" width="3" height="20"/>
<rect x="338" y="434" width="3" height="23"/>
<rect x="342" y="434" width="3" height="23"/>
<rect x="346" y="431" width="3" height="26"/>
<rect x="350" y="431" width="3" height="26"/>
<rect x="354" y="432" width="3" height="25"/>
<rect x="358" y="434" width="3" height="23"/>
<rect x="362" y="434" width="3" height="23"/>
<rect x="366" y="434" width="3" height="23"/>
<rect x="370" y="436" width="3" height="21"/>
<rect x="374" y="443" width="3" height="14"/>
<rect x="378" y="448" width="3" height="9"/>
<rect x="382" y="454" width="3" height="3"/>
<rect x="386" y="455" width="3" height="2"/>
<rect x="390" y="456" width="3" height="3"/>
<rect x="394" y="456" width="3" height="5"/>
<rect x="398" y="456" width="3" height="8"/>
<rect x="402" y="456" width="3" height="12"/>
<rect x="406" y="456" width="3" height="23"/>
<rect x="410" y="456" width="3" height="33"/>
<rect x="414" y="456" width="3" height="36"/>
<rect x="418" y="456" width="3" height="40"/>
<rect x="422" y="456" width="3" height="41"/>
<rect x="426" y="456" width="3" height="43"/>
<rect x="430" y="456" width="3" height="45"/>
<rect x="434" y="456" width="3" height="50"/>
<rect x="438" y="456" width="3" height="58"/>
<rect x="442" y="456" width="3" height="62"/>
<rect x="446" y="456" width="3" height="60"/>
<rect x="450" y="456" width="3" height="59"/>
<rect x="454" y="456" width="3" height="53"/>
<rect x="458" y="456" width="3" height="48"/>
<rect x="462" y="456" width="3" height="43"/>
<rect x="466" y="456" width="3" height="41"/>
<rect x="470" y="456" width="3" height="46"/>
<rect x="474" y="456" width="3" height="44"/>
<rect x="478" y="456" width="3" height="44"/>
<rect x="482" y="456" width="3" height="44"/>
<rect x="486" y="456" width="3" height="43"/>
<rect x="490" y="456" width="3" height="39"/>
<rect x="494" y="456" width="3" height="35"/>
<rect x="498" y="456" width="3" height="29"/>
<rect x="502" y="456" width="3" height="20"/>
<rect x="506" y="456" width="3" height="12"/>
<rect x="510" y="456" width="3" height="7"/>
<rect x="514" y="455" width="3" height="2"/>
<rect x="518" y="447" width="3" height="10"/>
<rect x="522" y="443" width="3" height="14"/>
<rect x="526" y="442" width="3" height="15"/>
<rect x="530" y="442" width="3" height="15"/>
<rect x="534" y="449" width="3" height="8"/>
<rect x="538" y="454" width="3" height="3"/>
<rect x="542" y="456" width="3" height="5"/>
<rect x="546" y="456" width="3" height="14"/>
<rect x="550" y="456" width="3" height="18"/>
<rect x="554" y="456" width="3" height="21"/>
<rect x="558" y="456" width="3" height="20"/>
<rect x="562" y="456" width="3" height="21"/>
<rect x="566" y="456" width="3" height="23"/>
<rect x="570" y="456" width="3" height="20"/>
<rect x="574" y="456" width="3" height="11"/>
<rect x="578" y="456" width="3" height="6"/>
<rect x="582" y="456" width="3" height="3"/>
<rect x="586" y="454" width="3" height="3"/>
<rect x="590" y="456" width="3" height="3"/>
<rect x="594" y="456" width="3" height="4"/>
</g>
<polyline points="3.5,513.5 7.5,515.2 11.5,515.4 19.5,515.4 27.5,515.4 31.5,515.2 35.5,513.7 39.5,513.0 43.5,512.6 47.5,512.3 51.5,511.6 55.5,510.2 59.5,508.1 63.5,505.0 67.5,500.4 71.5,495.5 75.5,487.1 79.5,478.6 83.5,469.5 87.5,460.4 91.5,453.0 95.5,446.5 99.5,440.0 103.5,432.6 107.5,427.0 111.5,422.1 115.5,417.9 119.5,415.5 123.5,413.7 127.5,411.6 131.5,409.5 135.5,409.2 139.5,410.2 143.5,411.3 147.5,412.3 151.5,412.3 155.5,413.0 159.5,413.7 163.5,416.5 167.5,419.3 171.5,422.1 175.5,424.9 179.5,427.7 183.5,432.5 187.5,438.5 191.5,444.6 195.5,450.0 199.5,454.2 203.5,457.7 207.5,461.3 211.5,465.5 215.5,468.7 219.5,469.3 223.5,469.3 227.5,469.0 231.5,466.5 235.5,463.4 239.5,458.4 243.5,451.4 247.5,443.0 251.5,434.2 255.5,426.0 259.5,418.5 263.5,411.1 267.5,404.1 271.5,397.3 275.5,390.9 279.5,386.3 283.5,382.3 287.5,379.6 291.5,377.5 295.5,374.7 299.5,372.8 303.5,372.3 307.5,372.5 311.5,375.1 315.5,378.2 319.5,382.1 323.5,386.6 327.5,392.2 331.5,399.2 335.5,406.3 339.5,412.6 343.5,417.5 347.5,422.8 351.5,426.8 355.5,430.1 359.5,433.5 363.5,433.5 367.5,433.5 371.5,433.8 375.5,435.2 379.5,437.0 383.5,439.4 387.5,442.2 391.5,445.3 395.5,448.5 399.5,451.3 403.5,454.1 407.5,459.7 411.5,465.4 415.5,470.3 419.5,474.5 423.5,478.7 427.5,483.6 431.5,487.8 435.5,492.2 439.5,496.9 443.5,500.8 447.5,503.8 451.5,506.3 455.5,507.1 459.5,507.1 463.5,507.1 467.5,507.1 471.5,506.4 475.5,505.3 479.5,503.2 483.5,501.4 487.5,499.7 491.5,498.3 495.5,496.9 499.5,495.8 503.5,492.0 507.5,487.8 511.5,483.6 515.5,479.3 519.5,473.3 523.5,467.1 527.5,461.5 531.5,457.1 535.5,453.5 539.5,451.4 543.5,451.1 547.5,451.7 551.5,454.2 555.5,457.7 559.5,461.2 563.5,464.3 567.5,468.0 571.5,471.1 575.5,471.3 579.5,471.3 583.5,470.8 587.5,469.0 591.5,467.1 595.5,465.4" fill="none" stroke="#ff0000" stroke-width="2" stroke-linejoin="round"/>
<polyline points="3.5,686.2 7.5,680.6 11.5,656.7 15.5,633.0 19.5,612.9 23.5,608.7 27.5,623.7 31.5,633.5 35.5,641.2 39.5,647.5 43.5,658.4 47.5,660.9 51.5,645.4 55.5,618.5 59.5,593.4 63.5,580.0 67.5,571.6 71.5,564.6 75.5,559.7 79.5,555.5 83.5,551.2 87.5,549.3 91.5,549.8 95.5,551.9 99.5,552.1 103.5,553.4 107.5,551.7 111.5,552.7 115.5,559.0 119.5,569.5 123.5,578.6 127.5,585.7 131.5,586.8 135.5,584.3 139.5,584.3 143.5,585.0 147.5,585.0 151.5,585.7 155.5,588.7 159.5,595.5 163.5,611.2 167.5,634.5 171.5,653.6 175.5,664.9 179.5,665.6 183.5,665.6 187.5,673.3 191.5,676.8 195.5,678.6 199.5,663.7 203.5,653.6 207.5,644.1 211.5,644.9 215.5,644.1 219.5,635.7 223.5,622.0 227.5,598.5 231.5,573.0 235.5,558.3 239.5,552.2 243.5,549.1 247.5,547.7 251.5,549.4 255.5,553.4 259.5,555.5 263.5,557.6 267.5,555.5 271.5,551.9 275.5,547.5 279.5,547.0 283.5,551.2 287.5,562.5 291.5,572.7 295.5,578.6 299.5,575.1 303.5,578.5 307.5,592.5 311.5,611.0 315.5,624.5 319.5,639.2 323.5,662.1 327.5,678.9 331.5,690.2 335.5,690.2 339.5,676.1 343.5,652.2 347.5,628.0 351.5,612.0 355.5,603.0 359.5,603.7 363.5,603.7 367.5,601.6 371.5,597.8 375.5,598.4 379.5,609.0 383.5,625.8 387.5,639.5 391.5,650.1 395.5,653.6 399.5,660.0 403.5,667.7 407.5,677.5 411.5,684.8 415.5,681.7 419.5,677.5 423.5,670.5 427.5,664.9 431.5,660.7 435.5,663.2 439.5,671.2 443.5,678.6 447.5,676.1 451.5,665.6 455.5,648.0 459.5,631.0 463.5,609.0 467.5,594.8 471.5,592.7 475.5,608.1 479.5,626.0 483.5,629.3 487.5,632.7 491.5,629.2 495.5,625.0 499.5,616.6 503.5,600.4 507.5,585.7 511.5,574.4 515.5,568.1 519.5,563.9 523.5,559.7 527.5,559.7 531.5,566.7 535.5,584.3 539.5,615.5 543.5,641.7 547.5,670.5 551.5,688.0 555.5,688.0 559.5,683.8 563.5,676.8 567.5,669.1 571.5,664.2 575.5,656.4 579.5,635.5 583.5,620.5 587.5,607.7 591.5,605.8 595.5,605.8" fill="none" stroke="#ff0000" stroke-width="1" stroke-dasharray="3 3"/>
<polyline points="3.5,689.7 7.5,664.4 11.5,627.2 15.5,594.8 19.5,611.7 23.5,618.1 27.5,642.6 31.5,638.1 35.5,645.4 39.5,655.3 43.5,676.3 47.5,650.4 51.5,617.0 55.5,585.7 59.5,580.0 63.5,572.3 67.5,562.5 71.5,558.3 75.5,556.2 79.5,551.9 83.5,547.0 87.5,551.9 91.5,549.8 95.5,554.5 99.5,552.7 103.5,553.4 107.5,549.8 111.5,559.7 115.5,566.7 119.5,580.0 123.5,586.4 127.5,588.7 131.5,585.7 135.5,578.6 139.5,584.3 143.5,589.9 147.5,584.3 151.5,585.0 155.5,592.0 159.5,610.0 163.5,631.5 167.5,660.7 171.5,671.9 175.5,666.3 179.5,661.8 183.5,668.4 187.5,689.9 191.5,675.4 195.5,671.2 199.5,644.9 203.5,645.9 207.5,641.0 211.5,648.0 215.5,643.1 219.5,617.5 223.5,592.7 227.5,566.0 231.5,556.2 235.5,549.1 239.5,547.5 243.5,546.8 247.5,548.4 251.5,553.4 255.5,557.8 259.5,557.8 263.5,557.6 267.5,550.5 271.5,547.5 275.5,543.5 279.5,550.5 283.5,559.0 287.5,578.6 291.5,581.4 295.5,575.8 299.5,568.5 303.5,592.5 307.5,618.5 311.5,626.5 315.5,637.0 319.5,655.0 323.5,687.3 327.5,694.1 331.5,696.5 335.5,681.0 339.5,651.5 343.5,628.5 347.5,602.0 351.5,601.6 355.5,599.8 359.5,609.0 363.5,604.4 367.5,594.6 371.5,589.0 375.5,612.5 379.5,630.8 383.5,648.7 387.5,647.7 391.5,655.7 395.5,653.6 399.5,667.0 403.5,679.6 407.5,685.9 411.5,688.0 415.5,675.4 419.5,672.6 423.5,660.9 427.5,660.7 431.5,658.5 435.5,670.5 439.5,683.8 443.5,681.0 447.5,665.6 451.5,649.4 455.5,630.2 459.5,609.0 463.5,583.5 467.5,581.4 471.5,611.9 475.5,625.3 479.5,638.5 483.5,625.6 487.5,634.5 491.5,626.4 495.5,618.7 499.5,601.1 503.5,580.0 507.5,569.5 511.5,566.0 515.5,566.7 519.5,559.0 523.5,554.8 527.5,563.9 531.5,580.0 535.5,610.0 539.5,638.5 543.5,678.9 547.5,687.3 551.5,695.1 555.5,686.6 559.5,671.9 563.5,665.6 567.5,668.4 571.5,662.8 575.5,639.5 579.5,612.9 583.5,604.9 587.5,599.8 591.5,608.3 595.5,614.2" fill="none" stroke="#20b2aa" stroke-width="1" />
<rect x="2" y="2" width="668" height="1" fill="#000"/>
<rect x="2" y="356" width="668" height="1" fill="#000"/>
<rect x="2" y="2" width="1" height="355" fill="#000"/>
<rect x="669" y="2" width="1" height="355" fill="#000"/>
<rect x="2" y="358" width="668" height="1" fill="#000"/>
<rect x="2" y="534" width="668" height="1" fill="#000"/>
<rect x="2" y="358" width="1" height="177" fill="#000"/>
<rect x="669" y="358" width="1" height="177" fill="#000"/>
<rect x="2" y="536" width="668" height="1" fill="#000"/>
<rect x="2" y="711" width="668" height="1" fill="#000"/>
<rect x="2" y="536" width="1" height="176" fill="#000"/>
<rect x="669" y="536" width="1" height="176" fill="#000"/>
<rect x="670" y="23" width="2" height="1" fill="#000"/>
<rect x="670" y="56" width="2" height="1" fill="#000"/>
<rect x="670" y="89" width="2" height="1" fill="#000"/>
<rect x="670" y="122" width="2" height="1" fill="#000"/>
<rect x="670" y="155" width="2" height="1" fill="#000"/>
<rect x="670" y="188" width="2" height="1" fill="#000"/>
<rect x="670" y="221" width="2" height="1" fill="#000"/>
<rect x="670" y="254" width="2" height="1" fill="#000"/>
<rect x="670" y="287" width="2" height="1" fill="#000"/>
<rect x="670" y="320" width="2" height="1" fill="#000"/>
<rect x="670" y="353" width="2" height="1" fill="#000"/>
<rect x="670" y="360" width="1" height="1" fill="#000"/>
<rect x="670" y="456" width="1" height="1" fill="#000"/>
<rect x="670" y="533" width="1" height="1" fill="#000"/>
<rect x="670" y="538" width="1" height="1" fill="#000"/>
<rect x="670" y="710" width="1" height="1" fill="#000"/>
<rect x="3" y="712" width="1" height="3" fill="#000"/>
<rect x="67" y="712" width="1" height="3" fill="#000"/>
<rect x="131" y="712" width="1" height="3" fill="#000"/>
<rect x="195" y="712" width="1" height="3" fill="#000"/>
<rect x="259" y="712" width="1" height="3" fill="#000"/>
<rect x="323" y="712" width="1" height="3" fill="#000"/>
<rect x="387" y="712" width="1" height="3" fill="#000"/>
<rect x="451" y="712" width="1" height="3" fill="#000"/>
<rect x="515" y="712" width="1" height="3" fill="#000"/>
<rect x="579" y="712" width="1" height="3" fill="#000"/>
<g stroke-width="0.3" paint-order="stroke">
<path d="M6 10h7l-3.5 4z" fill="#000" shape-rendering="auto"/>
<text x="18.2" y="14" fill="#000" stroke="#000" textLength="50.8" lengthAdjust="spacingAndGlyphs">USDJPY,H4</text>
<text x="75.2" y="14" fill="#000" stroke="#000" textLength="32.6" lengthAdjust="spacingAndGlyphs">101.935</text>
<text x="111.4" y="14" fill="#000" stroke="#000" textLength="32.6" lengthAdjust="spacingAndGlyphs">101.949</text>
<text x="147.6" y="14" fill="#000" stroke="#000" textLength="32.6" lengthAdjust="spacingAndGlyphs">101.920</text>
<text x="183.6" y="14" fill="#000" stroke="#000" textLength="32.6" lengthAdjust="spacingAndGlyphs">101.940</text>
<text x="7.3" y="371" fill="#000" stroke="#000" textLength="66" lengthAdjust="spacingAndGlyphs">MACD(12,26,9)</text>
<text x="76.2" y="371" fill="#000" stroke="#000" textLength="29.8" lengthAdjust="spacingAndGlyphs">-0.0055</text>
<text x="110" y="371" fill="#000" stroke="#000" textLength="30.6" lengthAdjust="spacingAndGlyphs">-0.0191</text>
<text x="7.3" y="549" fill="#000" stroke="#000" textLength="54.6" lengthAdjust="spacingAndGlyphs">Stoch(13,3,3)</text>
<text x="65.4" y="549" fill="#000" stroke="#000" textLength="31.8" lengthAdjust="spacingAndGlyphs">56.0673</text>
<text x="101.4" y="549" fill="#000" stroke="#000" textLength="32.8" lengthAdjust="spacingAndGlyphs">59.6332</text>
<text x="7.3" y="707" fill="#000" stroke="#000" textLength="229.5" lengthAdjust="spacingAndGlyphs">FxPro MT4, © 2001-2014, MetaQuotes Software Corp.</text>
<text x="675.2" y="26" fill="#000" stroke="#000" textLength="32.8" lengthAdjust="spacingAndGlyphs">102.770</text>
<text x="675.2" y="59" fill="#000" stroke="#000" textLength="32.8" lengthAdjust="spacingAndGlyphs">102.570</text>
<text x="675.2" y="92" fill="#000" stroke="#000" textLength="32.8" lengthAdjust="spacingAndGlyphs">102.370</text>
<text x="675.2" y="125" fill="#000" stroke="#000" textLength="32.8" lengthAdjust="spacingAndGlyphs">102.170</text>
<text x="675.2" y="158" fill="#000" stroke="#000" textLength="32.8" lengthAdjust="spacingAndGlyphs">101.975</text>
<text x="675.2" y="191" fill="#000" stroke="#000" textLength="32.8" lengthAdjust="spacingAndGlyphs">101.775</text>
<text x="675.2" y="224" fill="#000" stroke="#000" textLength="32.8" lengthAdjust="spacingAndGlyphs">101.575</text>
<text x="675.2" y="257" fill="#000" stroke="#000" textLength="32.8" lengthAdjust="spacingAndGlyphs">101.375</text>
<text x="675.2" y="290" fill="#000" stroke="#000" textLength="32.8" lengthAdjust="spacingAndGlyphs">101.175</text>
<text x="675.2" y="323" fill="#000" stroke="#000" textLength="32.8" lengthAdjust="spacingAndGlyphs">100.975</text>
<text x="675.2" y="356" fill="#000" stroke="#000" textLength="32.8" lengthAdjust="spacingAndGlyphs">100.775</text>
<rect x="671" y="21" width="41" height="11" fill="#008080"/>
<text x="675.2" y="30" fill="#fff" stroke="#fff" textLength="32.8" lengthAdjust="spacingAndGlyphs">102.750</text>
<rect x="671" y="50" width="41" height="11" fill="#90ee90"/>
<text x="675.2" y="59" fill="#fff" stroke="#fff" textLength="32.8" lengthAdjust="spacingAndGlyphs">102.575</text>
<rect x="671" y="95" width="41" height="11" fill="#90ee90"/>
<text x="675.2" y="104" fill="#fff" stroke="#fff" textLength="32.8" lengthAdjust="spacingAndGlyphs">102.300</text>
<rect x="671" y="124" width="41" height="11" fill="#90ee90"/>
<text x="675.2" y="133" fill="#fff" stroke="#fff" textLength="32.8" lengthAdjust="spacingAndGlyphs">102.125</text>
<rect x="671" y="194" width="41" height="11" fill="#90ee90"/>
<text x="675.2" y="203" fill="#fff" stroke="#fff" textLength="32.8" lengthAdjust="spacingAndGlyphs">101.700</text>
<rect x="671" y="223" width="41" height="11" fill="#90ee90"/>
<text x="675.2" y="232" fill="#fff" stroke="#fff" textLength="32.8" lengthAdjust="spacingAndGlyphs">101.525</text>
<rect x="671" y="252" width="41" height="11" fill="#90ee90"/>
<text x="675.2" y="261" fill="#fff" stroke="#fff" textLength="32.8" lengthAdjust="spacingAndGlyphs">101.350</text>
<rect x="671" y="293" width="41" height="11" fill="#90ee90"/>
<text x="675.2" y="302" fill="#fff" stroke="#fff" textLength="32.8" lengthAdjust="spacingAndGlyphs">101.100</text>
<rect x="671" y="322" width="41" height="11" fill="#008080"/>
<text x="675.2" y="331" fill="#fff" stroke="#fff" textLength="32.8" lengthAdjust="spacingAndGlyphs">100.925</text>
<rect x="671" y="339" width="41" height="11" fill="#90ee90"/>
<text x="675.2" y="348" fill="#fff" stroke="#fff" textLength="32.8" lengthAdjust="spacingAndGlyphs">100.825</text>
<rect x="671" y="154" width="41" height="11" fill="#000"/>
<text x="675.2" y="163" fill="#fff" stroke="#fff" textLength="32.8" lengthAdjust="spacingAndGlyphs">101.940</text>
<text x="673.2" y="369" fill="#000" stroke="#000" textLength="27.6" lengthAdjust="spacingAndGlyphs">0.2328</text>
<text x="672.8" y="459" fill="#000" stroke="#000" textLength="18.6" lengthAdjust="spacingAndGlyphs">0.00</text>
<text x="673.2" y="531" fill="#000" stroke="#000" textLength="30.6" lengthAdjust="spacingAndGlyphs">-0.1861</text>
<text x="673.2" y="547" fill="#000" stroke="#000" textLength="15" lengthAdjust="spacingAndGlyphs">100</text>
<text x="672.4" y="575" fill="#000" stroke="#000" textLength="10.2" lengthAdjust="spacingAndGlyphs">80</text>
<text x="672.2" y="679" fill="#000" stroke="#000" textLength="10.2" lengthAdjust="spacingAndGlyphs">20</text>
<text x="672.8" y="708" fill="#000" stroke="#000" textLength="5.2" lengthAdjust="spacingAndGlyphs">0</text>
<text x="2.6" y="724" font-size="9.5px" stroke="#000">19 May 2014</text>
<text x="66.6" y="724" font-size="9.5px" stroke="#000">22 May 08:00</text>
<text x="130.6" y="724" font-size="9.5px" stroke="#000">27 May 00:00</text>
<text x="194.6" y="724" font-size="9.5px" stroke="#000">29 May 16:00</text>
<text x="258.6" y="724" font-size="9.5px" stroke="#000">3 Jun 08:00</text>
<text x="322.6" y="724" font-size="9.5px" stroke="#000">6 Jun 00:00</text>
<text x="386.6" y="724" font-size="9.5px" stroke="#000">10 Jun 16:00</text>
<text x="450.6" y="724" font-size="9.5px" stroke="#000">13 Jun 08:00</text>
<text x="514.6" y="724" font-size="9.5px" stroke="#000">18 Jun 00:00</text>
<text x="578.6" y="724" font-size="9.5px" stroke="#000">20 Jun 16:00</text>
</g>
</svg>
</body></html>
